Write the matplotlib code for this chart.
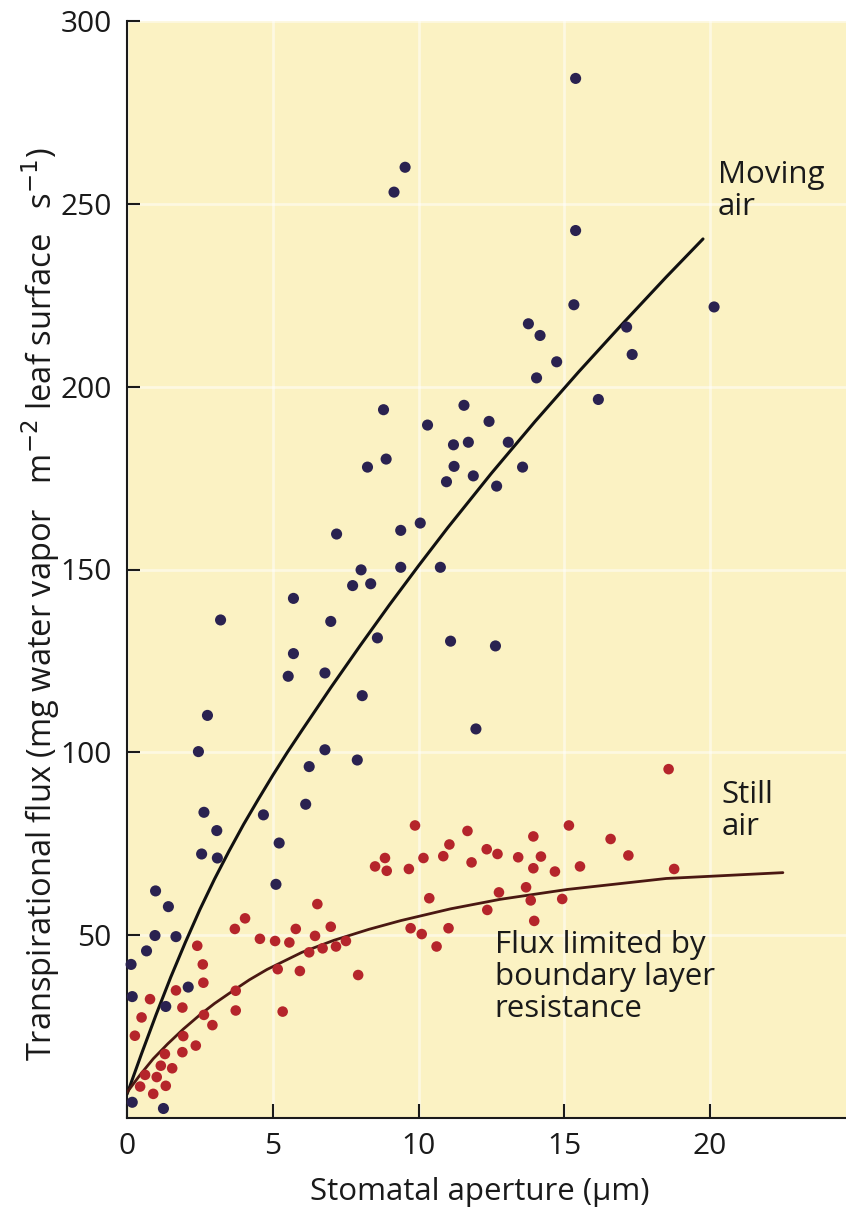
import matplotlib
matplotlib.use("Agg")
import matplotlib.pyplot as plt

plt.rcParams['font.family'] = ['Open Sans', 'DejaVu Sans']

# ---- data ----
moving_x = [15.39, 9.54, 9.16, 15.39, 15.33, 20.14, 13.77, 14.17, 17.14, 17.33,
            14.74, 14.05, 16.17, 11.56, 8.80, 10.31, 12.42, 11.20, 11.71, 13.08,
            8.89, 8.25, 11.22, 11.88, 13.57, 10.96, 12.68, 7.19, 9.39, 10.06,
            9.39, 10.75, 8.03, 7.74, 8.36, 5.71, 3.21, 6.99, 8.59, 11.10,
            12.64, 5.71, 5.53, 6.79, 8.07, 2.76, 11.97, 2.45, 6.79, 7.90,
            6.25, 6.13, 2.64, 4.68, 3.08, 5.22, 2.56, 3.10, 5.11, 0.98,
            1.42, 0.96, 1.68, 0.67, 0.14, 2.10, 0.18, 1.33, 0.18, 1.25]
moving_y = [284.3, 260.0, 253.2, 242.7, 222.4, 221.8, 217.2, 214.0, 216.3, 208.8,
            206.8, 202.4, 196.5, 194.9, 193.7, 189.5, 190.5, 184.1, 184.8, 184.8,
            180.2, 178.0, 178.2, 175.6, 178.0, 174.0, 172.8, 159.7, 160.7, 162.7,
            150.6, 150.6, 149.9, 145.6, 146.1, 142.1, 136.2, 135.8, 131.3, 130.4,
            129.1, 127.0, 120.8, 121.7, 115.5, 110.1, 106.4, 100.2, 100.7, 97.9,
            96.1, 85.8, 83.6, 82.9, 78.6, 75.2, 72.2, 71.1, 63.9, 62.1,
            57.8, 49.9, 49.6, 45.7, 42.0, 35.8, 33.2, 30.5, 4.3, 2.6]

still_x = [18.58, 9.88, 11.68, 15.16, 13.94, 16.59, 11.06, 10.17, 10.85, 12.34,
           12.71, 13.42, 14.20, 11.82, 17.20, 9.67, 13.94, 14.68, 15.54, 18.77,
           8.51, 8.85, 8.91, 10.37, 12.76, 13.69, 13.85, 14.93, 12.36, 13.97,
           9.73, 10.11, 11.03, 10.62, 6.53, 4.05, 3.70, 6.99, 5.79, 4.56,
           5.08, 5.57, 6.45, 2.41, 6.25, 6.71, 7.17, 7.51, 2.60, 5.17,
           5.93, 7.93, 2.62, 1.68, 0.79, 3.73, 1.90, 3.73, 5.34, 2.64,
           2.93, 0.50, 0.27, 1.93, 2.36, 1.90, 1.30, 1.16, 1.55, 0.62,
           1.02, 0.45, 1.33, 0.90]
still_y = [95.4, 80.0, 78.5, 80.0, 77.0, 76.3, 74.8, 71.1, 71.6, 73.5,
           72.2, 71.3, 71.5, 69.9, 71.8, 68.1, 68.3, 67.4, 68.8, 68.1,
           68.8, 71.1, 67.6, 60.1, 61.7, 63.1, 59.5, 59.9, 56.9, 53.9,
           51.9, 50.3, 51.9, 46.9, 58.5, 54.6, 51.7, 52.3, 51.7, 49.0,
           48.4, 48.0, 49.8, 47.1, 45.3, 46.4, 46.9, 48.4, 42.0, 40.7,
           40.2, 39.1, 37.0, 34.9, 32.5, 34.8, 30.2, 29.4, 29.1, 28.2,
           25.4, 27.5, 22.5, 22.4, 19.8, 18.0, 17.5, 14.3, 13.6, 11.8,
           11.2, 8.6, 8.8, 6.6]

# fitted curves
moving_curve_x = [0, 0.5, 1.0, 1.5, 2.0, 2.5, 3.0, 3.5, 4.0, 4.5, 5.0, 5.5, 6.0,
                  7.0, 8.0, 9.0, 10.0, 11.0, 12.5, 14.0, 15.5, 17.0, 18.5, 19.76]
moving_curve_y = [6.5, 17.6, 28.3, 38.5, 48.0, 57.0, 65.3, 73.0, 80.3, 87.1, 93.7, 100.0, 106.0,
                  117.8, 129.2, 140.3, 151.0, 161.4, 176.3, 190.5, 204.1, 217.2, 230.0, 240.4]
still_curve_x = [0, 0.45, 0.9, 1.4, 1.93, 2.5, 3.0, 3.6, 4.2, 4.8, 6.0, 7.1, 8.3, 9.4,
                 11.1, 12.8, 15.1, 18.5, 22.5]
still_curve_y = [7.0, 11.8, 16.2, 20.3, 24.3, 28.2, 31.3, 34.6, 37.8, 40.6, 45.3, 48.6, 51.6, 54.0,
                 57.2, 59.8, 62.5, 65.5, 67.1]

x_ticks = [0, 5, 10, 15, 20]
y_ticks = [50, 100, 150, 200, 250, 300]

# ---- figure ----
W, H = 846, 1209
fig = plt.figure(figsize=(W / 100, H / 100), dpi=100)
fig.patch.set_facecolor('white')

left_px, right_px, top_px, bottom_px = 127, 846, 21, 1118
ax = fig.add_axes([left_px / W, 1 - bottom_px / H, (right_px - left_px) / W, (bottom_px - top_px) / H])
ax.set_facecolor('#FBF2C3')
ax.set_xlim(0, (right_px - left_px) / 29.15)
ax.set_ylim(0, 300)

ax.grid(True, color='white', linewidth=2.0, alpha=0.5)
ax.set_axisbelow(True)

for s in ['top', 'right']:
    ax.spines[s].set_visible(False)
for s in ['left', 'bottom']:
    ax.spines[s].set_linewidth(1.5)
    ax.spines[s].set_color('#1a1a1a')

ax.set_xticks(x_ticks)
ax.set_yticks(y_ticks)
ax.tick_params(axis='both', direction='in', colors='#1a1a1a', labelsize=21.5, width=1.5)
ax.tick_params(axis='y', length=9, pad=11)
ax.tick_params(axis='x', length=10, pad=10)

ax.plot(moving_curve_x, moving_curve_y, color='#111111', linewidth=2.2, zorder=3,
        solid_capstyle='round', solid_joinstyle='round')
ax.plot(still_curve_x, still_curve_y, color='#4a1812', linewidth=2.0, zorder=3,
        solid_capstyle='round', solid_joinstyle='round')

ax.scatter(moving_x, moving_y, s=64, color='#2A2250', edgecolors='none', zorder=4, clip_on=False)
ax.scatter(still_x, still_y, s=58, color='#B5252B', edgecolors='none', zorder=4, clip_on=False)

txt = dict(fontsize=22.5, color='#1a1a1a', ha='left', va='top', linespacing=1.1)
ax.text(20.27, 262, 'Moving\nair', **txt)
ax.text(20.4, 92.5, 'Still\nair', **txt)
ax.text(12.62, 51.5, 'Flux limited by\nboundary layer\nresistance', **txt)

fig.text(480 / W, 1 - 1192 / H, 'Stomatal aperture (\u03bcm)', fontsize=22.5, color='#1a1a1a',
         ha='center', va='center')
fig.text(41 / W, 1 - 604 / H,
         'Transpirational flux (mg water vapor   m$^{-2}$ leaf surface   s$^{-1}$)',
         fontsize=23.5, color='#1a1a1a', ha='center', va='center', rotation=90)

fig.savefig('out.png', dpi=100, facecolor='white')
